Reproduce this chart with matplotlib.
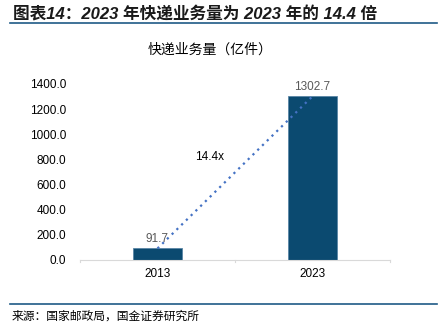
import matplotlib.pyplot as plt
from matplotlib.lines import Line2D

plt.rcParams['font.family'] = ['Liberation Sans', 'Noto Sans CJK SC', 'DejaVu Sans']

# ── data ──────────────────────────────────────────────────────────────────────
years = ["2013", "2023"]
volume = [91.7, 1302.7]          # 快递业务量（亿件）
multiple_label = "14.4x"
y_ticks = [0, 200, 400, 600, 800, 1000, 1200, 1400]

W, H = 443, 325
fig = plt.figure(figsize=(W / 100, H / 100), dpi=100)

# axes box in pixel coords: x 80..390, y 84..260
ax = fig.add_axes([80 / W, 1 - 260 / H, 310 / W, 176 / H])

x = range(len(years))
ax.bar(x, volume, width=0.32, color="#0B4A70", edgecolor="#5A86A6", linewidth=0.6, zorder=2)
ax.plot(x, volume, linestyle=(0, (1, 2)), color="#4472C4", linewidth=1.6, zorder=3)

for xi, v in zip(x, volume):
    ax.text(xi, v + 25, f"{v:.1f}", ha="center", va="bottom", fontsize=8.5, color="#595959")

ax.text(0.335, 820, multiple_label, ha="center", va="center", fontsize=8.5, color="#000000")

ax.set_xlim(-0.5, 1.5)
ax.set_ylim(0, 1400)
ax.set_yticks(y_ticks)
ax.set_yticklabels([f"{t:.1f}" for t in y_ticks], fontsize=8.5)
ax.set_xticks(list(x))
ax.set_xticklabels(years, fontsize=8.5)
ax.tick_params(axis="y", length=0, pad=10)
ax.tick_params(axis="x", length=0, pad=6)

# category boundary ticks
for b in [-0.5, 0.5, 1.5]:
    ax.plot([b, b], [0, -12], color="#D9D9D9", linewidth=0.8, clip_on=False)

for s in ["top", "right", "left"]:
    ax.spines[s].set_visible(False)
ax.spines["bottom"].set_color("#D9D9D9")

# ── titles and frame lines ────────────────────────────────────────────────────
fig.text(13 / W, 1 - 14 / H, "图表14：2023 年快递业务量为 2023 年的 14.4 倍",
         fontsize=12, fontweight="bold", fontstyle="italic", color="#1a1a1a",
         ha="left", va="center")
fig.add_artist(Line2D([10 / W, 437 / W], [1 - 23 / H, 1 - 23 / H], color="#1F5A86", linewidth=1.2))

fig.text(210 / W, 1 - 50 / H, "快递业务量（亿件）", fontsize=10, color="#000000",
         ha="center", va="center", family=["Noto Sans CJK SC", "DejaVu Sans"])

fig.add_artist(Line2D([10 / W, 437 / W], [1 - 304 / H, 1 - 304 / H], color="#1F5A86", linewidth=1.2))
fig.text(12 / W, 1 - 316 / H, "来源：国家邮政局，国金证券研究所", fontsize=8.5, color="#000000",
         ha="left", va="center", family=["Noto Sans CJK SC", "DejaVu Sans"])

plt.savefig("out.png", dpi=100)
